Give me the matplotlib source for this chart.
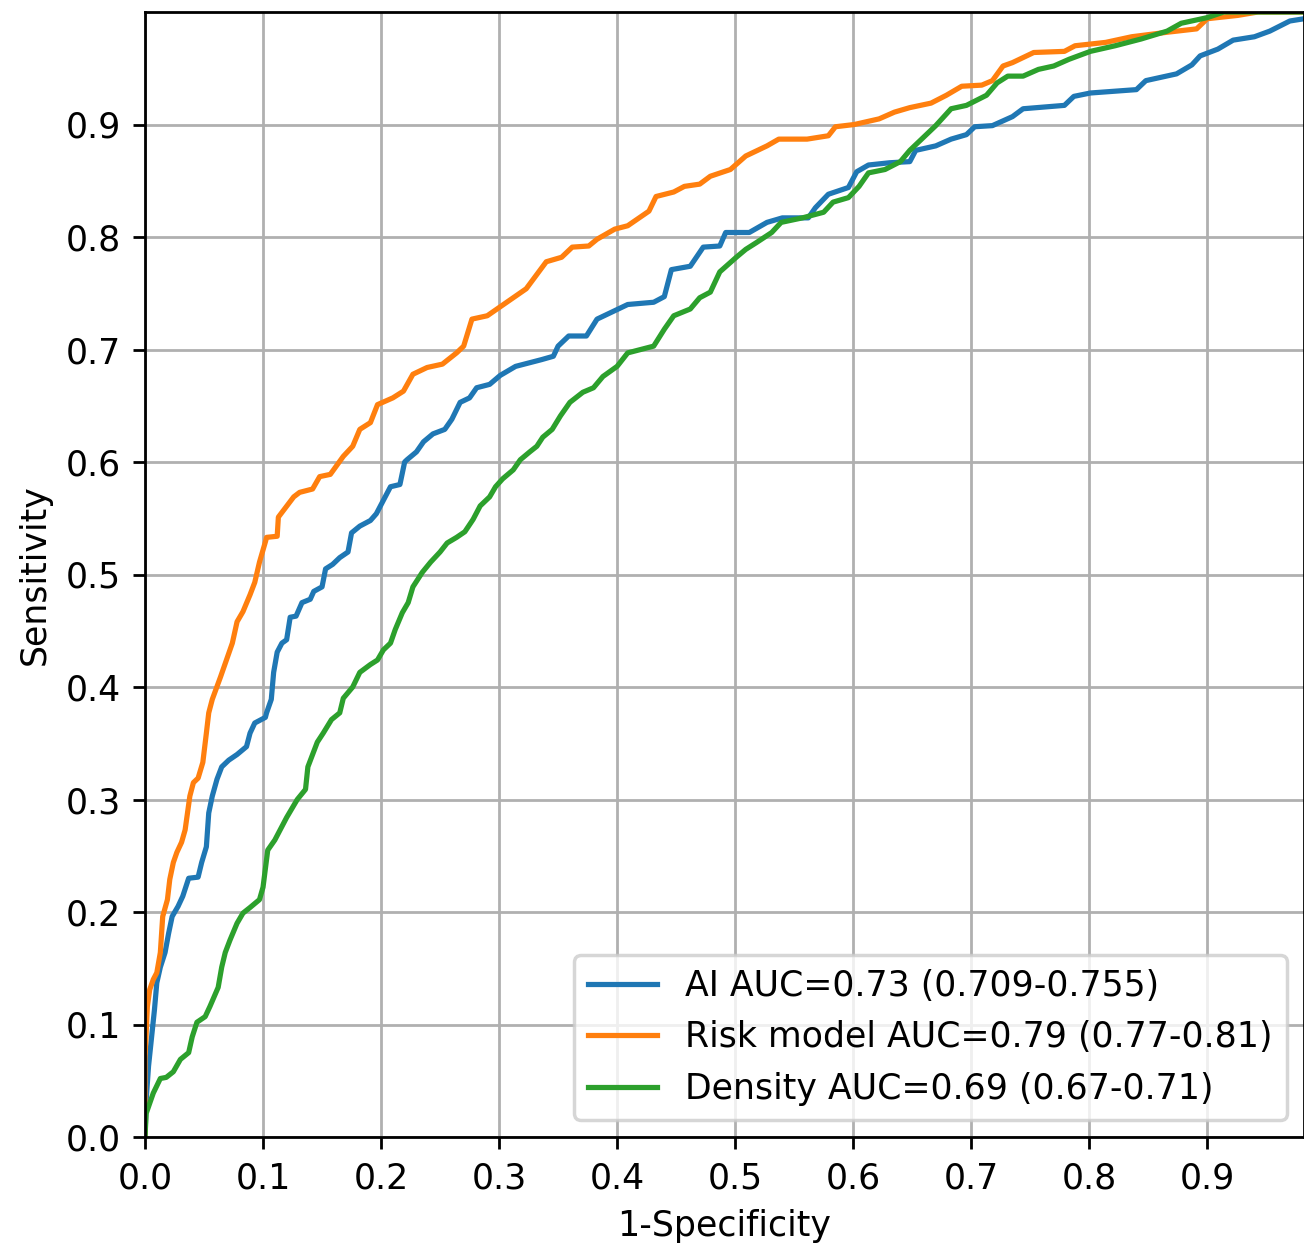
import numpy as np
import matplotlib.pyplot as plt

# ROC points (1-specificity, sensitivity)
ai_fpr = [0.0, 0.001, 0.003, 0.006, 0.008, 0.010, 0.013, 0.017, 0.020, 0.023, 0.028, 0.032,
          0.037, 0.045, 0.048, 0.052, 0.054, 0.057, 0.061, 0.065, 0.071, 0.078, 0.086, 0.089,
          0.093, 0.102, 0.103, 0.107, 0.109, 0.112, 0.116, 0.120, 0.123, 0.128, 0.133, 0.140,
          0.143, 0.150, 0.153, 0.159, 0.165, 0.172, 0.175, 0.182, 0.191, 0.196, 0.201, 0.208,
          0.216, 0.220, 0.222, 0.230, 0.236, 0.244, 0.254, 0.260, 0.267, 0.275, 0.281, 0.292,
          0.301, 0.314, 0.336, 0.346, 0.350, 0.359, 0.374, 0.383, 0.397, 0.409, 0.431, 0.440,
          0.446, 0.462, 0.473, 0.487, 0.492, 0.512, 0.527, 0.540, 0.562, 0.568, 0.579, 0.596,
          0.603, 0.613, 0.631, 0.648, 0.653, 0.670, 0.683, 0.696, 0.703, 0.718, 0.735, 0.744,
          0.779, 0.787, 0.801, 0.840, 0.848, 0.874, 0.887, 0.894, 0.909, 0.922, 0.940, 0.953,
          0.970, 0.982, 1.0]
ai_tpr = [0.0, 0.033, 0.063, 0.093, 0.113, 0.137, 0.151, 0.164, 0.181, 0.196, 0.205, 0.214,
          0.230, 0.231, 0.244, 0.258, 0.288, 0.303, 0.318, 0.329, 0.335, 0.340, 0.347, 0.359,
          0.368, 0.373, 0.377, 0.389, 0.413, 0.431, 0.439, 0.442, 0.462, 0.463, 0.475, 0.478,
          0.485, 0.489, 0.505, 0.509, 0.515, 0.520, 0.537, 0.543, 0.548, 0.554, 0.564, 0.578,
          0.580, 0.600, 0.602, 0.609, 0.618, 0.625, 0.629, 0.638, 0.653, 0.657, 0.666, 0.669,
          0.677, 0.685, 0.691, 0.694, 0.703, 0.712, 0.712, 0.727, 0.734, 0.740, 0.742, 0.747,
          0.771, 0.774, 0.791, 0.792, 0.804, 0.804, 0.813, 0.817, 0.817, 0.826, 0.838, 0.844,
          0.858, 0.864, 0.866, 0.867, 0.877, 0.881, 0.887, 0.891, 0.898, 0.899, 0.907, 0.914,
          0.917, 0.925, 0.928, 0.931, 0.939, 0.945, 0.953, 0.961, 0.967, 0.975, 0.978, 0.983,
          0.992, 0.994, 1.0]

risk_fpr = [0.0, 0.0, 0.001, 0.002, 0.004, 0.007, 0.010, 0.013, 0.015, 0.019, 0.021, 0.024,
            0.027, 0.031, 0.034, 0.038, 0.041, 0.045, 0.049, 0.052, 0.054, 0.057, 0.064, 0.069,
            0.074, 0.078, 0.083, 0.089, 0.093, 0.097, 0.102, 0.103, 0.112, 0.113, 0.126, 0.131,
            0.142, 0.148, 0.157, 0.168, 0.176, 0.182, 0.191, 0.197, 0.210, 0.219, 0.227, 0.239,
            0.252, 0.264, 0.270, 0.277, 0.290, 0.301, 0.323, 0.340, 0.353, 0.362, 0.376, 0.383,
            0.398, 0.409, 0.427, 0.433, 0.448, 0.457, 0.470, 0.479, 0.496, 0.509, 0.527, 0.537,
            0.561, 0.579, 0.585, 0.601, 0.622, 0.635, 0.648, 0.666, 0.679, 0.692, 0.709, 0.718,
            0.727, 0.735, 0.753, 0.779, 0.788, 0.814, 0.836, 0.866, 0.891, 0.900, 0.926, 0.943,
            1.0]
risk_tpr = [0.0, 0.070, 0.093, 0.116, 0.131, 0.140, 0.146, 0.164, 0.196, 0.211, 0.229, 0.244,
            0.253, 0.262, 0.273, 0.303, 0.315, 0.319, 0.333, 0.359, 0.377, 0.389, 0.409, 0.424,
            0.439, 0.458, 0.467, 0.482, 0.493, 0.511, 0.529, 0.533, 0.534, 0.551, 0.569, 0.573,
            0.576, 0.587, 0.589, 0.605, 0.614, 0.629, 0.635, 0.651, 0.657, 0.663, 0.678, 0.684,
            0.687, 0.697, 0.703, 0.727, 0.730, 0.738, 0.754, 0.778, 0.782, 0.791, 0.792, 0.798,
            0.807, 0.810, 0.823, 0.836, 0.840, 0.845, 0.847, 0.854, 0.860, 0.872, 0.881, 0.887,
            0.887, 0.890, 0.898, 0.900, 0.905, 0.911, 0.915, 0.919, 0.926, 0.934, 0.935, 0.939,
            0.952, 0.955, 0.964, 0.965, 0.970, 0.973, 0.978, 0.982, 0.985, 0.994, 0.997, 1.0,
            1.0]

dens_fpr = [0.0, 0.001, 0.007, 0.013, 0.018, 0.024, 0.030, 0.037, 0.040, 0.044, 0.051, 0.055,
            0.062, 0.065, 0.068, 0.072, 0.078, 0.083, 0.089, 0.097, 0.100, 0.104, 0.110, 0.116,
            0.120, 0.129, 0.136, 0.138, 0.146, 0.151, 0.158, 0.165, 0.168, 0.176, 0.182, 0.191,
            0.197, 0.202, 0.208, 0.212, 0.218, 0.223, 0.227, 0.235, 0.242, 0.250, 0.256, 0.264,
            0.271, 0.278, 0.284, 0.292, 0.297, 0.303, 0.312, 0.318, 0.326, 0.332, 0.337, 0.345,
            0.352, 0.360, 0.371, 0.380, 0.388, 0.400, 0.409, 0.431, 0.440, 0.448, 0.462, 0.470,
            0.479, 0.487, 0.501, 0.509, 0.518, 0.531, 0.539, 0.557, 0.575, 0.583, 0.596, 0.605,
            0.613, 0.627, 0.640, 0.648, 0.658, 0.670, 0.683, 0.696, 0.713, 0.722, 0.731, 0.744,
            0.757, 0.770, 0.783, 0.801, 0.822, 0.844, 0.866, 0.878, 0.900, 0.914, 1.0]
dens_tpr = [0.0, 0.021, 0.039, 0.052, 0.053, 0.058, 0.069, 0.075, 0.089, 0.102, 0.107, 0.116,
            0.133, 0.151, 0.164, 0.175, 0.190, 0.199, 0.204, 0.211, 0.222, 0.255, 0.264, 0.276,
            0.284, 0.300, 0.309, 0.329, 0.351, 0.359, 0.371, 0.377, 0.390, 0.400, 0.413, 0.420,
            0.424, 0.433, 0.439, 0.451, 0.466, 0.475, 0.489, 0.502, 0.511, 0.520, 0.528, 0.533,
            0.538, 0.549, 0.561, 0.569, 0.578, 0.585, 0.593, 0.602, 0.609, 0.614, 0.622, 0.629,
            0.641, 0.653, 0.662, 0.666, 0.676, 0.685, 0.697, 0.703, 0.718, 0.730, 0.736, 0.746,
            0.751, 0.769, 0.782, 0.789, 0.795, 0.804, 0.813, 0.817, 0.822, 0.831, 0.835, 0.845,
            0.857, 0.860, 0.867, 0.877, 0.887, 0.899, 0.914, 0.917, 0.926, 0.937, 0.943, 0.943,
            0.949, 0.952, 0.958, 0.965, 0.970, 0.976, 0.983, 0.990, 0.995, 1.0, 1.0]

labels = ["AI AUC=0.73 (0.709-0.755)",
          "Risk model AUC=0.79 (0.77-0.81)",
          "Density AUC=0.69 (0.67-0.71)"]
ticks = np.round(np.arange(0, 1.0, 0.1), 1)

DPI = 250
fig = plt.figure(figsize=(1304 / DPI, 1244 / DPI), dpi=DPI)
ax = fig.add_axes([145 / 1304, 1 - 1137 / 1244, 1 - 145 / 1304, (1137 - 12) / 1244])

ax.plot(ai_fpr, ai_tpr, label=labels[0])
ax.plot(risk_fpr, risk_tpr, label=labels[1])
ax.plot(dens_fpr, dens_tpr, label=labels[2])

ax.set_xlim(0, 0.982)
ax.set_ylim(0, 1.0)
ax.set_xticks(ticks)
ax.set_yticks(ticks)
ax.grid(True)
ax.set_xlabel("1-Specificity")
ax.set_ylabel("Sensitivity")
ax.legend(loc="lower right")

fig.savefig("out.png", dpi=DPI)
